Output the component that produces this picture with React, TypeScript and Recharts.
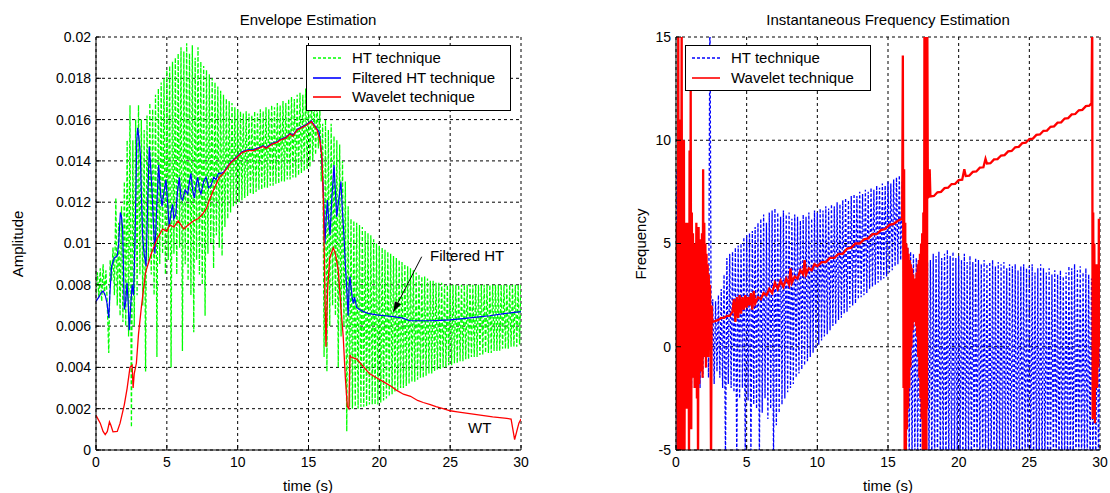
import React from 'react';
import { LineChart, Line, XAxis, YAxis, CartesianGrid, ReferenceLine, ReferenceDot, Legend } from 'recharts';

const FONT = '"Liberation Sans", Arial, Helvetica, sans-serif';

// ---------- axis ticks ----------
const timeTicks = [0, 5, 10, 15, 20, 25, 30];
const amplitudeTicks = [0, 0.002, 0.004, 0.006, 0.008, 0.01, 0.012, 0.014, 0.016, 0.018, 0.02];
const frequencyTicks = [-5, 0, 5, 10, 15];

// ---------- Envelope estimation ----------
// HT technique envelope, sampled every 0.1 s from 0 to 30 s (one row = 1 s)
const htSampleStep = 0.1;
const htEnvelope = [
  0.0076, 0.0086, 0.0074, 0.0088, 0.0072, 0.0090, 0.0075, 0.0087, 0.0070, 0.0047,
  0.0092, 0.0082, 0.0098, 0.0075, 0.0122, 0.0070, 0.0110, 0.0065, 0.0118, 0.0062,
  0.0130, 0.0060, 0.0150, 0.0055, 0.0167, 0.0011, 0.0150, 0.0060, 0.0160, 0.0075,
  0.0167, 0.0085, 0.0160, 0.0070, 0.0155, 0.0038, 0.0162, 0.0090, 0.0168, 0.0085,
  0.0165, 0.0075, 0.0172, 0.0045, 0.0175, 0.0090, 0.0178, 0.0095, 0.0180, 0.0085,
  0.0184, 0.0092, 0.0186, 0.0040, 0.0188, 0.0095, 0.0190, 0.0085, 0.0192, 0.0098,
  0.0195, 0.0048, 0.0193, 0.0090, 0.0197, 0.0082, 0.0192, 0.0075, 0.0196, 0.0057,
  0.0190, 0.0092, 0.0195, 0.0085, 0.0188, 0.0080, 0.0186, 0.0065, 0.0184, 0.0095,
  0.0182, 0.0100, 0.0180, 0.0088, 0.0178, 0.0104, 0.0176, 0.0098, 0.0174, 0.0094,
  0.0172, 0.0108, 0.0170, 0.0112, 0.0169, 0.0115, 0.0168, 0.0118, 0.0166, 0.0119,
  0.0165, 0.0120, 0.0164, 0.0121, 0.0163, 0.0122, 0.0164, 0.0123, 0.0163, 0.0124,
  0.0162, 0.0124, 0.0164, 0.0125, 0.0163, 0.0126, 0.0165, 0.0126, 0.0164, 0.0127,
  0.0166, 0.0127, 0.0165, 0.0128, 0.0167, 0.0128, 0.0166, 0.0129, 0.0168, 0.0129,
  0.0167, 0.0130, 0.0169, 0.0130, 0.0168, 0.0131, 0.0170, 0.0131, 0.0171, 0.0132,
  0.0170, 0.0132, 0.0172, 0.0133, 0.0173, 0.0134, 0.0172, 0.0135, 0.0175, 0.0136,
  0.0174, 0.0137, 0.0173, 0.0140, 0.0171, 0.0143, 0.0168, 0.0146, 0.0165, 0.0130,
  0.0158, 0.0045, 0.0160, 0.0038, 0.0155, 0.0060, 0.0158, 0.0070, 0.0152, 0.0065,
  0.0150, 0.0040, 0.0148, 0.0055, 0.0140, 0.0060, 0.0130, 0.0009, 0.0118, 0.0021,
  0.0112, 0.0020, 0.0111, 0.0021, 0.0110, 0.0020, 0.0109, 0.0021, 0.0108, 0.0021,
  0.0106, 0.0021, 0.0105, 0.0022, 0.0104, 0.0022, 0.0102, 0.0022, 0.0100, 0.0022,
  0.0099, 0.0023, 0.0098, 0.0024, 0.0097, 0.0025, 0.0096, 0.0026, 0.0095, 0.0027,
  0.0094, 0.0028, 0.0093, 0.0029, 0.0092, 0.0030, 0.0091, 0.0030, 0.0090, 0.0031,
  0.0089, 0.0032, 0.0088, 0.0033, 0.0087, 0.0033, 0.0086, 0.0034, 0.0085, 0.0035,
  0.0084, 0.0035, 0.0084, 0.0036, 0.0083, 0.0037, 0.0082, 0.0037, 0.0082, 0.0038,
  0.0081, 0.0039, 0.0081, 0.0039, 0.0081, 0.0040, 0.0080, 0.0040, 0.0080, 0.0041,
  0.0080, 0.0041, 0.0080, 0.0042, 0.0080, 0.0042, 0.0080, 0.0043, 0.0080, 0.0043,
  0.0080, 0.0044, 0.0080, 0.0044, 0.0080, 0.0045, 0.0080, 0.0045, 0.0080, 0.0045,
  0.0080, 0.0046, 0.0080, 0.0046, 0.0080, 0.0047, 0.0080, 0.0047, 0.0080, 0.0047,
  0.0080, 0.0048, 0.0080, 0.0048, 0.0080, 0.0048, 0.0080, 0.0049, 0.0080, 0.0049,
  0.0080, 0.0049, 0.0080, 0.0050, 0.0080, 0.0050, 0.0080, 0.0050, 0.0080, 0.0051,
  0.0080,
];

// Filtered HT technique envelope
const filteredHtTime = [
  0, 0.2, 0.35, 0.5, 0.65, 0.78, 0.9, 1.0, 1.1, 1.3, 1.5, 1.6, 1.72, 1.8, 1.88, 2.0, 2.1, 2.19, 2.28, 2.35,
  2.45, 2.55, 2.65, 2.75, 2.88, 2.94, 3.05, 3.13, 3.22, 3.29, 3.4, 3.53, 3.65, 3.76, 3.85, 3.95, 4.05, 4.16, 4.3, 4.42,
  4.55, 4.66, 4.8, 4.94, 5.05, 5.17, 5.3, 5.4, 5.5, 5.63, 5.75, 5.88, 6.0, 6.11, 6.3, 6.47, 6.6, 6.7, 6.82, 6.94,
  7.06, 7.18, 7.3, 7.41, 7.6, 7.77, 7.95, 8.12, 8.3, 8.47, 8.65, 8.82, 9.0, 9.5, 10.0, 10.3, 10.7, 11.1, 11.5, 11.8,
  12.0, 12.4, 12.8, 13.0, 13.4, 13.7, 13.9, 14.2, 14.5, 14.8, 15.0, 15.2, 15.45, 15.75, 15.9, 16.04, 16.1, 16.16, 16.25, 16.33,
  16.42, 16.52, 16.65, 16.8, 16.9, 16.99, 17.15, 17.29, 17.4, 17.5, 17.6, 17.69, 17.8, 17.87, 17.93, 18.0, 18.08, 18.16, 18.25, 18.4,
  18.6, 18.87, 19.3, 19.81, 20.4, 20.98, 21.6, 22.16, 23.0, 23.57, 24.3, 24.98, 25.9, 26.86, 27.8, 28.8, 30.0,
];
const filteredHtEnvelope = [
  0.0072, 0.0074, 0.0076, 0.0077, 0.0075, 0.0071, 0.0064, 0.0078, 0.0089, 0.0093, 0.0094, 0.0100, 0.0115, 0.0113, 0.0107, 0.0068, 0.0072, 0.0081, 0.0070, 0.0058,
  0.0070, 0.0080, 0.0075, 0.0100, 0.0150, 0.0156, 0.0150, 0.0143, 0.0120, 0.0103, 0.0095, 0.0089, 0.0120, 0.0147, 0.0138, 0.0126, 0.0110, 0.0095, 0.0120, 0.0138,
  0.0125, 0.0118, 0.0125, 0.0131, 0.0120, 0.0108, 0.0115, 0.0119, 0.0112, 0.0114, 0.0125, 0.0132, 0.0122, 0.0121, 0.0126, 0.0124, 0.0130, 0.0134, 0.0126, 0.0122,
  0.0128, 0.0132, 0.0126, 0.0124, 0.0130, 0.0132, 0.0127, 0.0128, 0.0132, 0.0131, 0.0134, 0.0134, 0.01345, 0.01394, 0.01424, 0.01444, 0.01454, 0.01454, 0.01464, 0.01474,
  0.01464, 0.01484, 0.01494, 0.01504, 0.01514, 0.01534, 0.01524, 0.01554, 0.01564, 0.01574, 0.01584, 0.01594, 0.0157, 0.0154, 0.0145, 0.0127, 0.0115, 0.0100, 0.0112, 0.0121,
  0.0112, 0.0104, 0.0122, 0.0138, 0.0125, 0.0113, 0.0122, 0.0130, 0.0115, 0.0104, 0.0090, 0.0079, 0.0065, 0.0080, 0.0084, 0.0079, 0.0074, 0.0071, 0.0074, 0.0069,
  0.0068, 0.0067, 0.0066, 0.00654, 0.0065, 0.00646, 0.0064, 0.00626, 0.00626, 0.00626, 0.00628, 0.0063, 0.00636, 0.00643, 0.0065, 0.0066, 0.0067,
];

// Wavelet technique envelope
const wtEnvelopeTime = [
  0, 0.3, 0.5, 0.65, 0.8, 0.95, 1.05, 1.2, 1.5, 1.7, 2.0, 2.2, 2.4, 2.55, 2.62, 2.7, 2.85, 3.0, 3.2, 3.5,
  3.9, 4.3, 4.7, 5.0, 5.2, 5.5, 5.8, 6.0, 6.2, 6.5, 6.9, 7.2, 7.5, 7.8, 8.0, 8.3, 8.7, 9.0, 9.5, 10.0,
  10.3, 10.7, 11.1, 11.5, 11.8, 12.0, 12.4, 12.8, 13.0, 13.4, 13.7, 13.9, 14.2, 14.5, 14.8, 15.0, 15.2, 15.4, 15.6, 15.8,
  15.95, 16.05, 16.15, 16.23, 16.35, 16.5, 16.75, 16.9, 17.1, 17.3, 17.45, 17.6, 17.74, 17.85, 17.93, 18.0, 18.4, 18.8, 19.3, 19.8,
  20.3, 20.8, 21.2, 21.7, 22.2, 22.7, 23.1, 23.6, 24.0, 24.5, 25.0, 25.5, 26.0, 26.5, 27.0, 27.5, 28.0, 28.5, 29.0, 29.3,
  29.45, 29.55, 29.7, 29.85, 30.0,
];
const wtEnvelope = [
  0.00168, 0.0013, 0.0009, 0.00075, 0.0009, 0.00136, 0.0012, 0.00088, 0.0009, 0.0013, 0.0022, 0.003, 0.004, 0.0041, 0.003, 0.0037, 0.0042, 0.0056, 0.0069, 0.0086,
  0.0095, 0.0102, 0.0107, 0.0106, 0.0109, 0.0108, 0.0111, 0.0109, 0.0107, 0.0109, 0.0111, 0.0112, 0.0114, 0.0117, 0.0121, 0.0126, 0.0132, 0.0134, 0.0139, 0.0142,
  0.0144, 0.0145, 0.0145, 0.0146, 0.0147, 0.0146, 0.0148, 0.0149, 0.0150, 0.0151, 0.0153, 0.0152, 0.0155, 0.0156, 0.0157, 0.0158, 0.0159, 0.0157, 0.0155, 0.0150,
  0.0142, 0.0120, 0.0080, 0.0050, 0.0078, 0.0093, 0.0098, 0.0095, 0.0087, 0.0068, 0.0055, 0.0035, 0.0021, 0.0020, 0.0046, 0.0045, 0.0044, 0.0041, 0.0037, 0.0035,
  0.0033, 0.0031, 0.0029, 0.0027, 0.0026, 0.0024, 0.0023, 0.0022, 0.0021, 0.0020, 0.0019, 0.00185, 0.0018, 0.00175, 0.0017, 0.00165, 0.0016, 0.00157, 0.00153, 0.0015,
  0.0009, 0.0005, 0.0009, 0.0013, 0.0015,
];

// ---------- Instantaneous frequency estimation ----------
// HT technique frequency, sampled every 0.1 s from 0 to 30 s (one row = 1 s)
const htFrequency = [
  8.5, -6, 5, -4, 4, -3, 3.5, -2, 4, -3,
  3, -2, 3.5, -1.5, 3, -1, 4, -2, 3, -1.5,
  3.5, -1, 3, -1.5, 17, -1.5, 2.3, -1.8, 2.2, -1.2,
  2.5, -1.5, 2.8, -2, 3.5, -5.5, 4.3, -1.8, 4.5, -2.0,
  4.6, -2.2, 4.8, -5.5, 4.9, -2.5, 5.0, -2.0, 5.3, -5.5,
  5.4, -2.6, 5.5, -5.5, 5.6, -2.8, 5.8, -3.0, 6.0, -5.5,
  6.2, -3.2, 6.4, -2.5, 6.0, -3.5, 6.5, -3.0, 6.6, -5.5,
  6.7, -3.8, 6.5, -3.2, 6.3, -2.8, 6.6, -2.5, 6.4, -2.2,
  6.5, -2.0, 6.2, -1.8, 6.4, -1.5, 6.3, -1.3, 6.1, -1.1,
  6.4, -0.9, 6.3, -0.7, 6.5, -0.5, 6.2, -0.3, 6.6, -0.1,
  6.5, 0.1, 6.7, 0.3, 6.6, 0.5, 6.8, 0.6, 6.7, 0.8,
  6.9, 1.0, 6.8, 1.1, 7.0, 1.3, 6.9, 1.4, 7.1, 1.6,
  7.2, 1.7, 7.1, 1.9, 7.3, 2.0, 7.4, 2.1, 7.3, 2.3,
  7.5, 2.4, 7.4, 2.5, 7.6, 2.6, 7.5, 2.8, 7.7, 2.9,
  7.6, 3.0, 7.8, 3.1, 7.7, 3.2, 7.9, 3.3, 7.8, 3.4,
  8.0, 3.6, 7.9, 3.7, 8.1, 3.9, 8.2, 4.0, 8.3, 4.2,
  8.0, 4.3, 5.5, -5.5, 4.8, -5.5, 4.6, -5.5, 4.5, -5.5,
  4.3, -5.5, 4.2, -5.5, 4.0, -5.5, 4.0, -5.5, 4.1, -5.5,
  4.2, -6, 4.5, -6, 4.4, -6, 4.6, -6, 4.3, -6,
  4.5, -6, 4.7, -6, 4.4, -6, 4.6, -6, 4.3, -6,
  4.4, -6, 4.2, -6, 4.5, -6, 4.1, -6, 4.4, -6,
  4.1, -6, 4.3, -6, 4.2, -6, 4.0, -6, 4.2, -6,
  4.0, -6, 4.1, -6, 4.2, -6, 3.9, -6, 4.1, -6,
  4.0, -6, 4.1, -6, 3.8, -6, 4.0, -6, 3.9, -6,
  4.0, -6, 3.7, -6, 3.9, -6, 4.0, -6, 3.8, -6,
  3.9, -6, 4.0, -6, 3.6, -6, 3.8, -6, 4.0, -6,
  3.8, -6, 3.6, -6, 3.8, -6, 3.5, -6, 3.7, -6,
  3.5, -6, 3.7, -6, 3.4, -6, 3.6, -6, 3.9, -6,
  3.8, -6, 4.0, -6, 3.7, -6, 3.9, -6, 3.6, -6,
  3.8, -6, 3.5, -6, 3.3, -6, 3.1, -6, 3.0, -6,
  2.5,
];

// Wavelet technique frequency
const wtFrequencyTime = [
  0.00, 0.04, 0.08, 0.12, 0.16, 0.20, 0.24, 0.28, 0.32, 0.36, 0.40, 0.44, 0.48, 0.52, 0.56, 0.60, 0.64, 0.68, 0.72, 0.76,
  0.80, 0.84, 0.88, 0.92, 0.96, 1.00, 1.04, 1.08, 1.12, 1.16, 1.20, 1.24, 1.28, 1.32, 1.36, 1.40, 1.44, 1.48, 1.52, 1.56,
  1.60, 1.64, 1.68, 1.72, 1.76, 1.80, 1.84, 1.88, 1.92, 1.96, 2.00, 2.04, 2.08, 2.12, 2.16, 2.20, 2.24, 2.28, 2.32, 2.36,
  2.40, 2.44, 2.48, 2.52, 2.56,
  2.6, 2.8, 3.0, 3.2, 3.4, 3.6, 3.8, 4.0, 4.1, 4.2, 4.3, 4.4, 4.5, 4.6, 4.7, 4.8, 4.9, 5.0, 5.1, 5.2,
  5.3, 5.4, 5.5, 5.6, 5.8, 6.0, 6.2, 6.4, 6.6, 6.8, 7.0, 7.2, 7.4, 7.6, 7.8, 8.0, 8.1, 8.2, 8.4, 8.6,
  8.8, 9.0, 9.1, 9.2, 9.4, 9.6, 9.8, 10.0, 10.3, 10.6, 10.9, 11.2, 11.5, 11.8, 12.1, 12.4, 12.7, 13.0, 13.3, 13.6,
  13.9, 14.2, 14.5, 14.8, 15.1, 15.4, 15.7, 16.0,
  16.05, 16.10, 16.14, 16.18, 16.22, 16.26, 16.30, 16.34, 16.38, 16.42, 16.46, 16.50, 16.54, 16.58, 16.62, 16.66, 16.70, 16.74, 16.78, 16.82,
  16.86, 16.90, 16.94, 16.98, 17.02, 17.06, 17.10, 17.14, 17.18, 17.22, 17.26, 17.30, 17.34, 17.38, 17.42, 17.46, 17.50, 17.54, 17.58, 17.60,
  17.62, 17.64, 17.66, 17.68, 17.70, 17.72, 17.74, 17.76, 17.78, 17.82,
  17.9, 17.95, 18.0, 18.25, 18.5, 18.75, 19.0, 19.25, 19.5, 19.75, 20.0, 20.25, 20.4, 20.5, 20.75, 21.0, 21.25, 21.5, 21.75, 21.9,
  22.0, 22.25, 22.5, 22.75, 23.0, 23.25, 23.5, 23.75, 24.0, 24.25, 24.5, 24.75, 25.0, 25.25, 25.5, 25.75, 26.0, 26.25, 26.5, 26.75,
  27.0, 27.25, 27.5, 27.75, 28.0, 28.25, 28.5, 28.75, 29.0, 29.25, 29.4,
  29.45, 29.48, 29.52, 29.56, 29.60, 29.64, 29.68, 29.72, 29.76, 29.80, 29.84, 29.88, 29.92, 29.96, 30.0,
];
const wtFrequency = [
  2.0, -3, 6, -5.5, 16, -4, 11, -6, 8, -2, 16, -6, 7, -3, 10, -6, 6, -2.5, 5.5, -3,
  6, -1.5, 5, -6, 9.5, -2, 12.5, -4, 6.5, -1.5, 5.5, -1, 5, -2, 4.5, -1, 6, -2.5, 4.2, -6,
  5.8, -1.8, 5.2, -1.2, 4.8, -0.8, 5.5, -1.5, 8.6, -0.5, 6.0, 0.0, 5.0, -1.0, 4.5, 0.5, 4.0, -0.5, 3.5, 0.5,
  3.0, 1.0, -6, 2.0, 1.2,
  1.2, 1.25, 1.3, 1.4, 1.4, 1.5, 1.5, 1.7, 2.3, 1.2, 2.4, 1.4, 2.5, 1.6, 2.4, 1.8, 2.5, 1.9, 2.4, 2.0,
  2.6, 1.8, 2.7, 2.1, 2.4, 2.3, 2.6, 2.5, 2.8, 2.6, 3.1, 2.8, 3.2, 2.9, 3.3, 3.0, 3.8, 3.1, 3.4, 3.3,
  3.7, 3.5, 4.2, 3.5, 3.8, 3.7, 4.0, 3.9, 4.1, 4.1, 4.3, 4.3, 4.5, 4.5, 4.75, 4.8, 5.0, 5.0, 5.2, 5.25,
  5.45, 5.45, 5.65, 5.7, 5.9, 5.95, 6.1, 6.2,
  14.1, -2, 8.6, -6, 6, -5.5, 5, -4, 4.8, -3, 4.5, -2, 4.2, -1, 4, 0, 3.8, 0.8, 3.5, 1.2,
  3.3, 1.5, 3.2, 1.0, 3.6, 0.5, 4.0, -0.5, 4.2, -1.5, 4.5, -2.5, 5.0, -3.5, 5.5, -5, 6.5, -6, 16, -6,
  16, -6, 16, -6, 16, -6, 16, -3, 16, 7.2,
  7.3, 8.6, 7.28, 7.30, 7.48, 7.50, 7.68, 7.70, 7.88, 7.89, 8.07, 8.09, 8.6, 8.27, 8.29, 8.47, 8.49, 8.67, 8.69, 9.1,
  8.87, 8.89, 9.07, 9.09, 9.26, 9.28, 9.46, 9.48, 9.66, 9.68, 9.86, 9.88, 10.06, 10.08, 10.26, 10.28, 10.46, 10.47, 10.65, 10.67,
  10.85, 10.87, 11.05, 11.07, 11.25, 11.27, 11.45, 11.47, 11.65, 11.67, 11.8,
  16, -3.5, 6.5, -2.5, 5, -3.7, 4, -1, 3.5, -2, 4, -1, 6.2, 0, 3,
];

// ---------- legends ----------
const envelopeLegend = [
  { name: 'HT technique', color: '#00ff00', dash: '3 2' },
  { name: 'Filtered HT technique', color: '#0000ff', dash: '' },
  { name: 'Wavelet technique', color: '#ff0000', dash: '' },
];
const frequencyLegend = [
  { name: 'HT technique', color: '#0000ff', dash: '3 2' },
  { name: 'Wavelet technique', color: '#ff0000', dash: '' },
];

// ---------- tables ----------
const sampled = (values: number[]) =>
  values.map((v, i) => ({ t: Math.round(i * htSampleStep * 100) / 100, v }));
const paired = (times: number[], values: number[]) => times.map((t, i) => ({ t, v: values[i] }));

const htEnvelopeData = sampled(htEnvelope);
const filteredHtData = paired(filteredHtTime, filteredHtEnvelope);
const wtEnvelopeData = paired(wtEnvelopeTime, wtEnvelope);
const htFrequencyData = sampled(htFrequency);
const wtFrequencyData = paired(wtFrequencyTime, wtFrequency);

const tickStyle = { fill: '#000', fontSize: 14, fontFamily: FONT };

function LegendBox({ items, width }: { items: typeof envelopeLegend; width: number }) {
  return (
    <div
      style={{
        width,
        boxSizing: 'border-box',
        border: '1px solid #000',
        background: '#fff',
        padding: '2px 0 3px 0',
        fontFamily: FONT,
        fontSize: 15,
        color: '#000',
      }}
    >
      {items.map((it) => (
        <div key={it.name} style={{ display: 'flex', alignItems: 'center', height: 19.5, whiteSpace: 'nowrap' }}>
          <svg width={45} height={19} style={{ flex: 'none' }}>
            <line x1={6} x2={34} y1={10} y2={10} stroke={it.color} strokeWidth={1.6} strokeDasharray={it.dash || undefined} />
          </svg>
          <span>{it.name}</span>
        </div>
      ))}
    </div>
  );
}

const ArrowHead = (p: any) => {
  const { cx, cy } = p;
  if (cx == null || cy == null) return null;
  const ux = -0.459;
  const uy = 0.889;
  const L = 10;
  const W = 3.5;
  const bx = cx - ux * L;
  const by = cy - uy * L;
  const px = -uy;
  const py = ux;
  return <polygon points={`${cx},${cy} ${bx + px * W},${by + py * W} ${bx - px * W},${by - py * W}`} fill="#000" />;
};

const textShape = (label: string) => (p: any) => (
  <text x={p.cx} y={p.cy} fontSize={15} fontFamily={FONT} fill="#000" dominantBaseline="central">
    {label}
  </text>
);

const centered = (left: number, top: number, rotate = false): React.CSSProperties => ({
  position: 'absolute',
  left,
  top,
  transform: `translate(-50%, -50%)${rotate ? ' rotate(-90deg)' : ''}`,
  whiteSpace: 'nowrap',
  fontFamily: FONT,
  fontSize: 15,
  color: '#000',
});

export default function App() {
  return (
    <div style={{ position: 'absolute', left: 0, top: 0, width: 1110, height: 493, background: '#fff', overflow: 'hidden' }}>
      {/* ---------------- left: Envelope Estimation ---------------- */}
      <div style={{ position: 'absolute', left: 0, top: 0 }}>
        <LineChart width={560} height={493} margin={{ top: 37, right: 39, bottom: 13, left: 36 }}>
          <XAxis
            type="number"
            dataKey="t"
            domain={[0, 30]}
            ticks={timeTicks}
            interval={0}
            allowDataOverflow
            height={30}
            tickSize={-5}
            tickMargin={12}
            axisLine={{ stroke: '#000' }}
            tickLine={{ stroke: '#000' }}
            tick={tickStyle}
          />
          <XAxis
            xAxisId="top"
            orientation="top"
            type="number"
            dataKey="t"
            domain={[0, 30]}
            ticks={timeTicks}
            interval={0}
            allowDataOverflow
            height={0}
            tickSize={-5}
            axisLine={{ stroke: '#000' }}
            tickLine={{ stroke: '#000' }}
            tick={false}
          />
          <YAxis
            type="number"
            domain={[0, 0.02]}
            ticks={amplitudeTicks}
            interval={0}
            allowDataOverflow
            width={60}
            tickSize={-5}
            tickMargin={10}
            axisLine={{ stroke: '#000' }}
            tickLine={{ stroke: '#000' }}
            tick={tickStyle}
          />
          <YAxis
            yAxisId="right"
            orientation="right"
            type="number"
            domain={[0, 0.02]}
            ticks={amplitudeTicks}
            interval={0}
            allowDataOverflow
            width={0}
            tickSize={-5}
            axisLine={{ stroke: '#000' }}
            tickLine={{ stroke: '#000' }}
            tick={false}
          />
          <Line data={htEnvelopeData} dataKey="v" type="linear" stroke="#00ff00" strokeWidth={1.3} strokeDasharray="4 2" dot={false} activeDot={false} isAnimationActive={false} />
          <Line data={filteredHtData} dataKey="v" type="linear" stroke="#0000ff" strokeWidth={1.2} dot={false} activeDot={false} isAnimationActive={false} />
          <Line data={wtEnvelopeData} dataKey="v" type="linear" stroke="#ff0000" strokeWidth={1.3} dot={false} activeDot={false} isAnimationActive={false} />
          <CartesianGrid stroke="#000" strokeDasharray="3 3" strokeWidth={1} fill="none" />
          <ReferenceLine segment={[{ x: 22.99, y: 0.00936 }, { x: 20.99, y: 0.0067 }]} stroke="#000" strokeWidth={1} ifOverflow="visible" />
          <ReferenceDot x={20.99} y={0.0067} r={3} shape={ArrowHead} ifOverflow="visible" />
          <ReferenceDot x={23.58} y={0.00944} r={1} shape={textShape('Filtered HT')} ifOverflow="visible" />
          <ReferenceDot x={26.26} y={0.00107} r={1} shape={textShape('WT')} ifOverflow="visible" />
          <Legend
            layout="horizontal"
            verticalAlign="middle"
            align="center"
            wrapperStyle={{ left: 306, top: 45, width: 205, height: 64 }}
            content={() => <LegendBox items={envelopeLegend} width={205} />}
          />
        </LineChart>
        <div style={centered(308, 19)}>Envelope Estimation</div>
        <div style={centered(308, 485)}>time (s)</div>
        <div style={centered(17, 244, true)}>Amplitude</div>
      </div>

      {/* ---------------- right: Instantaneous Frequency Estimation ---------------- */}
      <div style={{ position: 'absolute', left: 560, top: 0 }}>
        <LineChart width={550} height={493} margin={{ top: 37, right: 10, bottom: 13, left: 56 }}>
          <XAxis
            type="number"
            dataKey="t"
            domain={[0, 30]}
            ticks={timeTicks}
            interval={0}
            allowDataOverflow
            height={30}
            tickSize={-5}
            tickMargin={12}
            axisLine={{ stroke: '#000' }}
            tickLine={{ stroke: '#000' }}
            tick={tickStyle}
          />
          <XAxis
            xAxisId="top"
            orientation="top"
            type="number"
            dataKey="t"
            domain={[0, 30]}
            ticks={timeTicks}
            interval={0}
            allowDataOverflow
            height={0}
            tickSize={-5}
            axisLine={{ stroke: '#000' }}
            tickLine={{ stroke: '#000' }}
            tick={false}
          />
          <YAxis
            type="number"
            domain={[-5, 15]}
            ticks={frequencyTicks}
            interval={0}
            allowDataOverflow
            width={60}
            tickSize={-5}
            tickMargin={10}
            axisLine={{ stroke: '#000' }}
            tickLine={{ stroke: '#000' }}
            tick={tickStyle}
          />
          <YAxis
            yAxisId="right"
            orientation="right"
            type="number"
            domain={[-5, 15]}
            ticks={frequencyTicks}
            interval={0}
            allowDataOverflow
            width={0}
            tickSize={-5}
            axisLine={{ stroke: '#000' }}
            tickLine={{ stroke: '#000' }}
            tick={false}
          />
          <Line data={htFrequencyData} dataKey="v" type="linear" stroke="#0000ff" strokeWidth={1.3} strokeDasharray="3 2" dot={false} activeDot={false} isAnimationActive={false} />
          <Line data={wtFrequencyData} dataKey="v" type="linear" stroke="#ff0000" strokeWidth={2.3} dot={false} activeDot={false} isAnimationActive={false} />
          <CartesianGrid stroke="#000" strokeDasharray="3 3" strokeWidth={1} fill="none" />
          <Legend
            layout="horizontal"
            verticalAlign="middle"
            align="center"
            wrapperStyle={{ left: 125, top: 45, width: 186, height: 45 }}
            content={() => <LegendBox items={frequencyLegend} width={186} />}
          />
        </LineChart>
        <div style={centered(328, 19)}>Instantaneous Frequency Estimation</div>
        <div style={centered(328, 485)}>time (s)</div>
        <div style={centered(80, 244, true)}>Frequency</div>
      </div>
    </div>
  );
}
